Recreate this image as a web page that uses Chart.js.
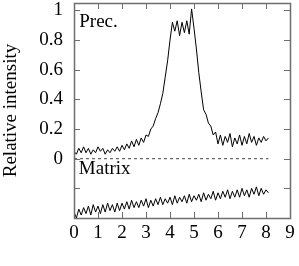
<!DOCTYPE html>
<html lang="en">
<head>
    <meta charset="UTF-8">
    <title>Prec. vs Matrix</title>
    <style>
        html, body { margin: 0; padding: 0; background: #fff; }
        #wrap { width: 299px; height: 266px; }
    </style>
</head>
<body>
<div id="wrap"><canvas id="grafico"></canvas></div>
<script src="https://cdn.jsdelivr.net/npm/chart.js"></script>
<script type="text/javascript">
        // sample positions (same grid for both curves)
        var posicion = [0.0, 0.1, 0.2, 0.3, 0.4, 0.5, 0.6, 0.7, 0.8, 0.9,
            1.0, 1.1, 1.2, 1.3, 1.4, 1.5, 1.6, 1.7, 1.8, 1.9,
            2.0, 2.1, 2.2, 2.3, 2.4, 2.5, 2.6, 2.7, 2.8, 2.9,
            3.0, 3.1, 3.2, 3.3, 3.4, 3.5, 3.6, 3.7, 3.8, 3.9,
            4.0, 4.1, 4.2, 4.3, 4.4, 4.5, 4.6, 4.7, 4.8, 4.9,
            5.0, 5.1, 5.2, 5.3, 5.4, 5.5, 5.6, 5.7, 5.8, 5.9,
            6.0, 6.1, 6.2, 6.3, 6.4, 6.5, 6.6, 6.7, 6.8, 6.9,
            7.0, 7.1, 7.2, 7.3, 7.4, 7.5, 7.6, 7.7, 7.8, 7.9,
            8.0, 8.1];
        var prec = [0.05, 0.03, 0.07, 0.04, 0.08, 0.04, 0.07, 0.03, 0.06, 0.04,
            0.08, 0.05, 0.07, 0.03, 0.06, 0.04, 0.07, 0.05, 0.08, 0.05,
            0.09, 0.06, 0.10, 0.07, 0.12, 0.08, 0.13, 0.09, 0.14, 0.11,
            0.16, 0.15, 0.20, 0.22, 0.27, 0.31, 0.37, 0.44, 0.55, 0.66,
            0.80, 0.92, 0.86, 0.93, 0.83, 0.92, 0.85, 0.93, 0.84, 1.01,
            0.88, 0.74, 0.58, 0.45, 0.33, 0.30, 0.24, 0.22, 0.16, 0.18,
            0.10, 0.16, 0.09, 0.15, 0.11, 0.17, 0.08, 0.14, 0.10, 0.16,
            0.09, 0.15, 0.10, 0.17, 0.11, 0.15, 0.09, 0.14, 0.11, 0.15,
            0.12, 0.14];
        var matrix = [-0.36, -0.40, -0.34, -0.38, -0.33, -0.37, -0.32, -0.38, -0.31, -0.36,
            -0.32, -0.37, -0.31, -0.36, -0.30, -0.35, -0.31, -0.36, -0.30, -0.35,
            -0.30, -0.34, -0.29, -0.34, -0.28, -0.33, -0.29, -0.33, -0.28, -0.32,
            -0.27, -0.33, -0.28, -0.32, -0.27, -0.31, -0.26, -0.31, -0.27, -0.30,
            -0.26, -0.31, -0.25, -0.30, -0.26, -0.29, -0.25, -0.30, -0.24, -0.29,
            -0.25, -0.28, -0.24, -0.29, -0.23, -0.28, -0.24, -0.27, -0.22, -0.28,
            -0.23, -0.27, -0.22, -0.26, -0.21, -0.27, -0.22, -0.26, -0.21, -0.26,
            -0.20, -0.25, -0.21, -0.26, -0.20, -0.24, -0.19, -0.25, -0.20, -0.24,
            -0.21, -0.23];
        // dashed zero reference
        var ceroX = [0, 8.1];
        var ceroY = [0, 0];

        var xTicks = [0, 1, 2, 3, 4, 5, 6, 7, 8, 9];
        var yTicks = [-0.2, 0, 0.2, 0.4, 0.6, 0.8, 1];
        var etiquetas = [
            { texto: 'Prec.', x: 0.22, y: 0.885 },
            { texto: 'Matrix', x: 0.2, y: -0.105 }
        ];

        function puntos(xs, ys) {
            return xs.map(function (x, i) { return { x: x, y: ys[i] }; });
        }

        var fuente = "'Liberation Serif', 'DejaVu Serif', serif";

        // frame with inward ticks on all four sides, plus the text labels
        var marco = {
            id: 'marco',
            afterDraw: function (chart) {
                var ctx = chart.ctx, a = chart.chartArea;
                var sx = chart.scales.x, sy = chart.scales.y;
                var largo = 6;
                ctx.save();
                ctx.strokeStyle = '#6e6e6e';
                ctx.lineWidth = 1;
                ctx.beginPath();
                xTicks.forEach(function (v) {
                    if (v <= sx.min || v >= sx.max) return;
                    var px = Math.round(sx.getPixelForValue(v)) + 0.5;
                    ctx.moveTo(px, a.bottom); ctx.lineTo(px, a.bottom - largo);
                    ctx.moveTo(px, a.top); ctx.lineTo(px, a.top + largo);
                });
                yTicks.forEach(function (v) {
                    var py = Math.round(sy.getPixelForValue(v)) + 0.5;
                    ctx.moveTo(a.left, py); ctx.lineTo(a.left + largo, py);
                    ctx.moveTo(a.right, py); ctx.lineTo(a.right - largo, py);
                });
                ctx.stroke();
                ctx.lineWidth = 1.5;
                ctx.strokeRect(Math.round(a.left) + 0.5, Math.round(a.top) + 0.5,
                    Math.round(a.right - a.left), Math.round(a.bottom - a.top));
                ctx.fillStyle = '#000';
                ctx.font = '19px ' + fuente;
                ctx.textBaseline = 'alphabetic';
                ctx.textAlign = 'left';
                etiquetas.forEach(function (e) {
                    ctx.fillText(e.texto, sx.getPixelForValue(e.x), sy.getPixelForValue(e.y));
                });
                ctx.restore();
            }
        };

        Chart.defaults.font.family = fuente;
        Chart.defaults.font.size = 19;
        Chart.defaults.color = '#000';

        var linea = {
            showLine: true,
            pointRadius: 0,
            borderColor: '#000',
            borderWidth: 1,
            tension: 0,
            fill: false
        };

        var grafico = new Chart(document.getElementById('grafico'), {
            type: 'scatter',
            data: {
                datasets: [
                    Object.assign({ label: 'Prec.', data: puntos(posicion, prec) }, linea),
                    Object.assign({ label: 'Matrix', data: puntos(posicion, matrix) }, linea),
                    Object.assign({}, linea, { label: '0', data: puntos(ceroX, ceroY), borderDash: [3, 3], borderColor: '#444' })
                ]
            },
            options: {
                responsive: true,
                maintainAspectRatio: false,
                animation: false,
                events: [],
                layout: { padding: { top: 3, right: 9, left: 0, bottom: 0 } },
                plugins: {
                    legend: { display: false },
                    tooltip: { enabled: false }
                },
                scales: {
                    x: {
                        type: 'linear',
                        min: 0,
                        max: 9,
                        afterBuildTicks: function (s) { s.ticks = xTicks.map(function (v) { return { value: v }; }); },
                        afterFit: function (s) { s.height = 48; s.paddingLeft = 0; s.paddingRight = 0; },
                        grid: { display: false, drawTicks: false },
                        border: { display: false },
                        ticks: { padding: 4, maxRotation: 0, autoSkip: false }
                    },
                    y: {
                        type: 'linear',
                        min: -0.4,
                        max: 1.05,
                        afterBuildTicks: function (s) { s.ticks = yTicks.map(function (v) { return { value: v }; }); },
                        afterFit: function (s) { s.width = 74; s.paddingTop = 0; s.paddingBottom = 0; },
                        grid: { display: false, drawTicks: false },
                        border: { display: false },
                        title: {
                            display: true,
                            text: 'Relative intensity',
                            padding: { top: 0, bottom: 0 }
                        },
                        ticks: {
                            padding: 11,
                            callback: function (v) { return v < 0 ? '' : String(+v.toFixed(1)); }
                        }
                    }
                }
            },
            plugins: [marco]
        });
</script>
</body>
</html>
